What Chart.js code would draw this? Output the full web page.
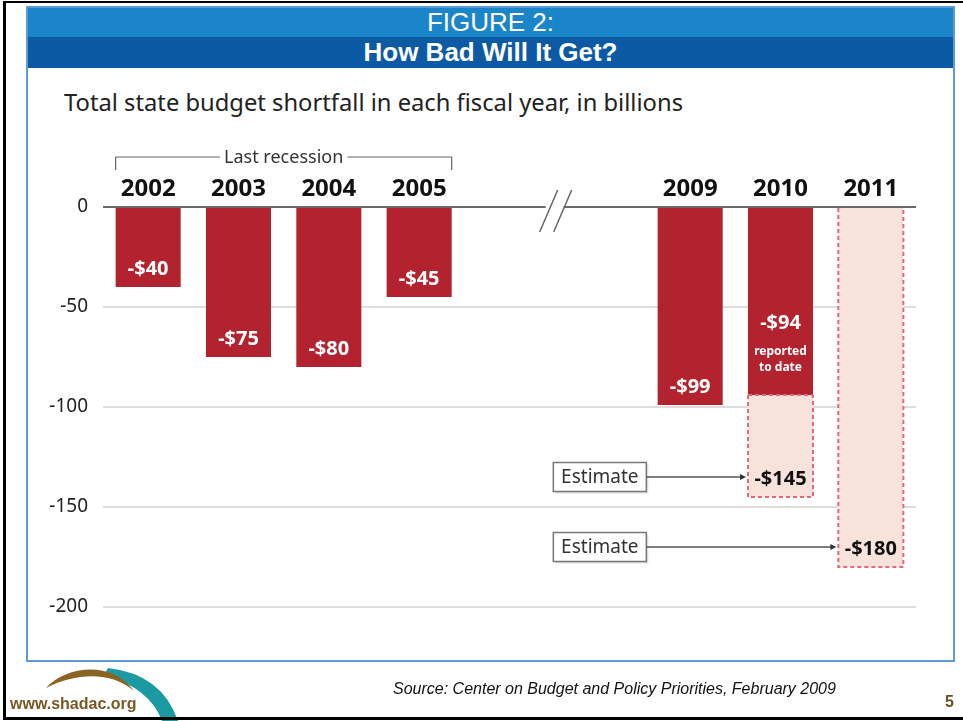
<!DOCTYPE html>
<html>
<head>
<meta charset="utf-8">
<script src="https://cdn.jsdelivr.net/npm/chart.js@4/dist/chart.umd.min.js"></script>
<style>
  html, body { margin: 0; padding: 0; background: #fff; }
  body { width: 963px; height: 721px; position: relative; overflow: hidden; font-family: "Liberation Sans", Arial, sans-serif; }
  #chart { position: absolute; left: 0; top: 0; }
  .abs { position: absolute; }
  #frameL { left: 3px; top: 1px; width: 3px; height: 719px; background: #000; }
  #frameT { left: 3px; top: 1px; width: 960px; height: 2px; background: #000; }
  #frameB { left: 3px; top: 717px; width: 960px; height: 3px; background: #000; }
  #box { left: 26px; top: 6px; width: 925px; height: 652px; border: 2px solid #5d9ad6; }
  #band1 { left: 28px; top: 8px; width: 925px; height: 29px; background: #1a86c9; color: #fff;
           font-size: 26px; line-height: 29px; text-align: center; }
  #band2 { left: 28px; top: 37px; width: 925px; height: 31px; background: #0b5aa3; color: #fff;
           font-size: 26px; font-weight: bold; line-height: 31px; text-align: center; }
  #subtitle { left: 64px; top: 86px; font-family: "Noto Sans", sans-serif; font-size: 23px; color: #222;
              white-space: nowrap; transform-origin: 0 0; }
  #source { left: 393px; top: 680px; font-style: italic; font-size: 16px; color: #111; white-space: nowrap; }
  #site { left: 10px; top: 695px; font-weight: bold; font-size: 16px; color: #7a5723; white-space: nowrap; }
  #page { left: 945px; top: 693px; font-weight: bold; font-size: 16px; color: #6b4f22; }
  #logo { left: 0; top: 660px; }
</style>
</head>
<body>
<div class="abs" id="box"></div>
<div class="abs" id="band1">FIGURE 2:</div>
<div class="abs" id="band2">How Bad Will It Get?</div>
<div class="abs" id="subtitle">Total state budget shortfall in each fiscal year, in billions</div>
<canvas id="chart" width="963" height="721"></canvas>
<svg class="abs" id="logo" width="200" height="61" viewBox="0 660 200 61">
  <path d="M108,668 Q162,674 178,721 L162,721 Q150,688 104,675 Z" fill="#1b9aa2"/>
  <path d="M46,688 C66,666 112,660 134,691 C112,672 78,672 46,688 Z" fill="#8a6422"/>
</svg>
<div class="abs" id="site">www.shadac.org</div>
<div class="abs" id="source">Source: Center on Budget and Policy Priorities, February 2009</div>
<div class="abs" id="page">5</div>
<div class="abs" id="frameL"></div>
<div class="abs" id="frameT"></div>
<div class="abs" id="frameB"></div>
<script>
// Fiscal years; the two blank slots hold the gap between 2005 and 2009
const years = ['2002', '2003', '2004', '2005', '', '', '2009', '2010', '2011'];
// Shortfall reported, in billions of dollars
const reported = [-40, -75, -80, -45, null, null, -99, -94, null];
// Estimated shortfall: each bar runs from start to end
const estimateStart = [null, null, null, null, null, null, null, -94, 0];
const estimateEnd = [null, null, null, null, null, null, null, -145, -180];
// Y axis ticks
const yTicks = [0, -50, -100, -150, -200];
// Where the "Estimate" callouts sit (category slot, value)
const calloutSlot = 5;
const calloutValues = [-135, -170];
const calloutTargets = [7, 8];

const RED = '#b3232f';
const PINK_FILL = '#f8e2dc';
const PINK_EDGE = '#e06a78';
const BODY_FONT = '"Noto Sans", "Open Sans", sans-serif';

// fit the subtitle width
(function () {
  const el = document.getElementById('subtitle');
  const w = el.getBoundingClientRect().width;
  el.style.transform = 'scaleX(' + (619 / w) + ')';
})();

const estimateData = estimateStart.map((s, i) => (s === null ? null : [s, estimateEnd[i]]));
const money = v => '-$' + Math.abs(v);

const decorations = {
  id: 'decorations',
  beforeDatasetsDraw(chart) {
    const { ctx, scales: { x, y } } = chart;
    const zeroY = y.getPixelForValue(0);
    // axis break "//" between the two eras
    const bx = (x.getPixelForValue(4) + x.getPixelForValue(5)) / 2;
    ctx.save();
    ctx.fillStyle = '#fff';
    ctx.fillRect(bx - 9, zeroY - 3, 18, 6);
    ctx.strokeStyle = '#666';
    ctx.lineWidth = 1.5;
    [-6, 8].forEach(d => {
      ctx.beginPath();
      ctx.moveTo(bx + d + 9, zeroY - 17);
      ctx.lineTo(bx + d - 9, zeroY + 25);
      ctx.stroke();
    });
    ctx.restore();
  },
  afterDatasetsDraw(chart) {
    const { ctx, scales: { x, y } } = chart;
    const zeroY = y.getPixelForValue(0);
    const repMeta = chart.getDatasetMeta(1).data;
    const estMeta = chart.getDatasetMeta(0).data;
    ctx.save();

    // dashed outlines of the estimated bars
    ctx.strokeStyle = PINK_EDGE;
    ctx.lineWidth = 2;
    ctx.setLineDash([4, 3]);
    estMeta.forEach((bar, i) => {
      if (estimateData[i] === null) return;
      const p = bar.getProps(['x', 'y', 'base', 'width'], true);
      const l = p.x - p.width / 2, r = p.x + p.width / 2;
      const top = Math.min(p.y, p.base), bot = Math.max(p.y, p.base);
      ctx.beginPath();
      if (Math.abs(top - zeroY) > 1) { ctx.moveTo(l, top); ctx.lineTo(r, top); }
      ctx.moveTo(l, top); ctx.lineTo(l, bot); ctx.lineTo(r, bot); ctx.lineTo(r, top);
      ctx.stroke();
    });
    ctx.setLineDash([]);

    // value labels inside reported bars
    ctx.textAlign = 'center';
    ctx.textBaseline = 'middle';
    repMeta.forEach((bar, i) => {
      const v = reported[i];
      if (v === null) return;
      const p = bar.getProps(['x', 'y'], true);
      ctx.fillStyle = '#fff';
      if (estimateData[i] !== null) {
        ctx.font = 'bold 20px ' + BODY_FONT;
        ctx.fillText(money(v), p.x, p.y - 72);
        ctx.font = 'bold 12px ' + BODY_FONT;
        ctx.fillText('reported', p.x, p.y - 43);
        ctx.fillText('to date', p.x, p.y - 27);
      } else {
        ctx.font = 'bold 20px ' + BODY_FONT;
        ctx.fillText(money(v), p.x, p.y - 18);
      }
    });

    // estimate labels, callout boxes and arrows
    const bx = x.getPixelForValue(calloutSlot);
    calloutTargets.forEach((idx, k) => {
      const bar = estMeta[idx].getProps(['x', 'y', 'base', 'width'], true);
      const bottom = Math.max(bar.y, bar.base);
      ctx.fillStyle = '#111';
      ctx.font = 'bold 20px ' + BODY_FONT;
      ctx.textAlign = 'center';
      ctx.fillText(money(estimateEnd[idx]), bar.x, bottom - 18);

      const cy = y.getPixelForValue(calloutValues[k]);
      const w = 93, h = 29;
      // box shadow
      ctx.fillStyle = 'rgba(0,0,0,0.12)';
      ctx.fillRect(bx - w / 2 + 2, cy - h / 2 + 2, w, h);
      ctx.fillStyle = '#fff';
      ctx.fillRect(bx - w / 2, cy - h / 2, w, h);
      ctx.strokeStyle = '#777';
      ctx.lineWidth = 1.5;
      ctx.strokeRect(bx - w / 2, cy - h / 2, w, h);
      ctx.fillStyle = '#333';
      ctx.font = '19px ' + BODY_FONT;
      ctx.fillText('Estimate', bx, cy + 1);

      // arrow to the estimated bar
      const tipX = bar.x - bar.width / 2 - 2;
      ctx.strokeStyle = '#555';
      ctx.lineWidth = 1.3;
      ctx.beginPath();
      ctx.moveTo(bx + w / 2, cy);
      ctx.lineTo(tipX - 4, cy);
      ctx.stroke();
      ctx.fillStyle = '#333';
      ctx.beginPath();
      ctx.moveTo(tipX, cy);
      ctx.lineTo(tipX - 6, cy - 3);
      ctx.lineTo(tipX - 6, cy + 3);
      ctx.closePath();
      ctx.fill();
    });

    // "Last recession" bracket over 2002-2005
    const first = repMeta[0].getProps(['x', 'width'], true);
    const last = repMeta[3].getProps(['x', 'width'], true);
    const l = first.x - first.width / 2, r = last.x + last.width / 2;
    const by = chart.chartArea.top - 50;
    ctx.strokeStyle = '#666';
    ctx.lineWidth = 1.2;
    ctx.beginPath();
    ctx.moveTo(l, by + 13); ctx.lineTo(l, by); ctx.lineTo(r, by); ctx.lineTo(r, by + 13);
    ctx.stroke();
    ctx.font = '18px ' + BODY_FONT;
    const label = 'Last recession';
    const tw = ctx.measureText(label).width;
    const mid = (l + r) / 2;
    ctx.fillStyle = '#fff';
    ctx.fillRect(mid - tw / 2 - 4, by - 10, tw + 8, 20);
    ctx.fillStyle = '#333';
    ctx.textAlign = 'center';
    ctx.fillText(label, mid, by + 1);
    ctx.restore();
  }
};

new Chart(document.getElementById('chart'), {
  type: 'bar',
  data: {
    labels: years,
    datasets: [
      {
        label: 'Estimate',
        data: estimateData,
        backgroundColor: PINK_FILL,
        borderWidth: 0,
        grouped: false,
        order: 2,
        barPercentage: 0.72,
        categoryPercentage: 1
      },
      {
        label: 'Reported',
        data: reported,
        backgroundColor: RED,
        borderWidth: 0,
        grouped: false,
        order: 1,
        barPercentage: 0.72,
        categoryPercentage: 1
      }
    ]
  },
  options: {
    responsive: false,
    animation: false,
    devicePixelRatio: 1,
    layout: { padding: { left: 0, right: 47, top: 167, bottom: 114 } },
    plugins: { legend: { display: false }, tooltip: { enabled: false }, title: { display: false } },
    scales: {
      x: {
        position: 'top',
        grid: { display: false, drawTicks: false },
        border: { display: false },
        ticks: {
          autoSkip: false,
          maxRotation: 0,
          padding: 3,
          color: '#111',
          font: { family: BODY_FONT, size: 24, weight: 'bold' }
        },
        afterFit: s => { s.height = 40; }
      },
      y: {
        min: -200,
        max: 0,
        afterBuildTicks: s => { s.ticks = yTicks.map(v => ({ value: v })); },
        grid: {
          drawTicks: false,
          lineWidth: 2,
          color: c => (c.tick && c.tick.value === 0 ? '#6a6a6a' : '#dedede')
        },
        border: { display: false },
        ticks: {
          padding: 15,
          color: '#222',
          font: { family: BODY_FONT, size: 19 }
        },
        afterFit: s => { s.width = 103; }
      }
    }
  },
  plugins: [decorations]
});
</script>
</body>
</html>
